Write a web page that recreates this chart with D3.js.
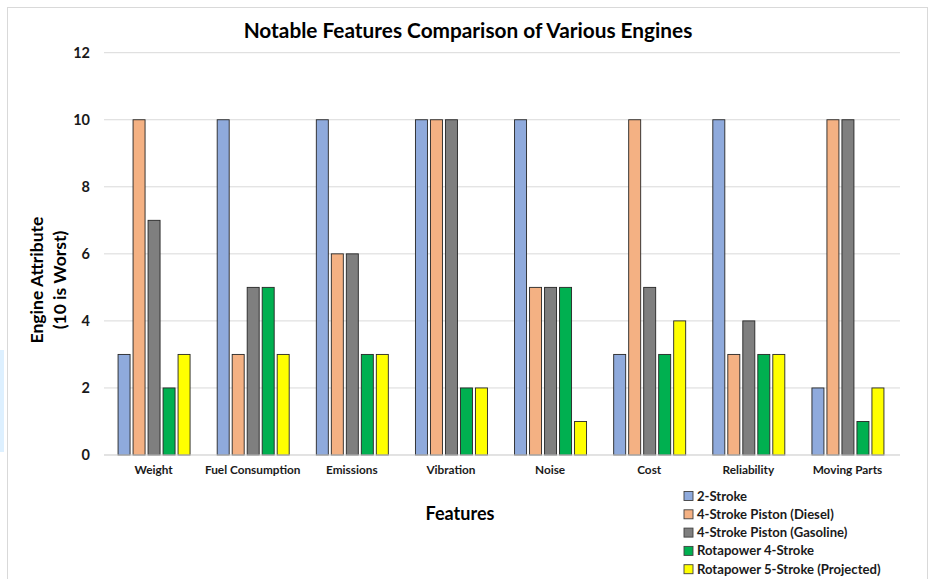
<!DOCTYPE html>
<html>
<head>
<meta charset="utf-8">
<script src="https://cdn.jsdelivr.net/npm/d3@7"></script>
<style>
  html, body { margin: 0; padding: 0; background: #fff; }
  svg { display: block; font-family: Lato, "Open Sans", sans-serif; }
</style>
</head>
<body>
<svg id="chart" width="930" height="579"></svg>
<script>
// Engine attribute ratings per feature (10 is worst)
const categories = ["Weight", "Fuel Consumption", "Emissions", "Vibration", "Noise", "Cost", "Reliability", "Moving Parts"];
const seriesNames = ["2-Stroke", "4-Stroke Piston (Diesel)", "4-Stroke Piston (Gasoline)", "Rotapower 4-Stroke", "Rotapower 5-Stroke (Projected)"];
const twoStroke      = [3, 10, 10, 10, 10, 3, 10, 2];
const diesel         = [10, 3, 6, 10, 5, 10, 3, 10];
const gasoline       = [7, 5, 6, 10, 5, 5, 4, 10];
const rotapower4     = [2, 5, 3, 2, 5, 3, 3, 1];
const rotapower5     = [3, 3, 3, 2, 1, 4, 3, 2];
const seriesValues = [twoStroke, diesel, gasoline, rotapower4, rotapower5];
const colors = ["#8FAADC", "#F4B183", "#7F7F7F", "#00B050", "#FFFF00"];
const yTicks = [0, 2, 4, 6, 8, 10, 12];

const svg = d3.select("#chart");

// side decoration and chart frame
svg.append("rect").attr("x", 0).attr("y", 350).attr("width", 4).attr("height", 102).attr("fill", "#DDF0FF");
svg.append("rect").attr("x", 7.5).attr("y", 7.5).attr("width", 920).attr("height", 600)
  .attr("fill", "#fff").attr("stroke", "#D9D9D9").attr("stroke-width", 1);

const plot = { left: 104, right: 897, top: 52.7, bottom: 455 };

const x = d3.scaleBand().domain(categories).range([plot.left, plot.right]).paddingInner(0).paddingOuter(0);
const y = d3.scaleLinear().domain([0, 12]).range([plot.bottom, plot.top]);

// gridlines
svg.append("g").selectAll("line").data(yTicks).join("line")
  .attr("x1", plot.left).attr("x2", 900)
  .attr("y1", d => y(d)).attr("y2", d => y(d))
  .attr("stroke", "#D9D9D9").attr("stroke-width", 1);

// y axis labels
const yAxis = d3.axisLeft(y).tickValues(yTicks).tickSize(0).tickPadding(14);
const gy = svg.append("g").attr("transform", `translate(${plot.left - 0},0)`).call(yAxis);
gy.select(".domain").remove();
gy.selectAll("text").attr("font-family", "Lato, sans-serif").attr("font-size", 14.5)
  .attr("font-weight", "bold").attr("fill", "#1a1a1a");

// bars
const barW = 12, barStep = 15;
const groupW = barStep * (seriesNames.length - 1) + barW;
const groups = svg.append("g").selectAll("g").data(categories).join("g")
  .attr("transform", c => `translate(${x(c) + x.bandwidth() / 2 - groupW / 2},0)`);
groups.selectAll("rect").data((c, i) => seriesValues.map((s, k) => ({ k, v: s[i] })))
  .join("rect")
  .attr("x", d => d.k * barStep + 0.5)
  .attr("y", d => y(d.v))
  .attr("width", barW)
  .attr("height", d => y(0) - y(d.v))
  .attr("fill", d => colors[d.k])
  .attr("stroke", "#262626").attr("stroke-width", 0.9);

// x axis baseline and category labels
svg.append("line").attr("x1", plot.left).attr("x2", 900).attr("y1", y(0)).attr("y2", y(0))
  .attr("stroke", "#D9D9D9");
const xAxis = d3.axisBottom(x).tickSize(0).tickPadding(11);
const gx = svg.append("g").attr("transform", `translate(0,${y(0)})`).call(xAxis);
gx.select(".domain").remove();
gx.selectAll("text").attr("font-family", "Lato, sans-serif").attr("font-size", 11.8)
  .attr("font-weight", "bold").attr("fill", "#1a1a1a");

// title
svg.append("text").attr("x", 468).attr("y", 38).attr("text-anchor", "middle")
  .attr("font-size", 20.8).attr("font-weight", "bold").attr("fill", "#000")
  .text("Notable Features Comparison of Various Engines");

// axis titles
const yt = svg.append("text").attr("transform", "translate(43,280) rotate(-90)")
  .attr("text-anchor", "middle").attr("font-size", 17.5).attr("font-weight", "bold").attr("fill", "#000");
yt.append("tspan").attr("x", 0).attr("y", 0).text("Engine Attribute");
yt.append("tspan").attr("x", 0).attr("y", 23).text("(10 is Worst)");

svg.append("text").attr("x", 460).attr("y", 520).attr("text-anchor", "middle")
  .attr("font-size", 18).attr("font-weight", "bold").attr("fill", "#000").text("Features");

// legend
const legend = svg.append("g").attr("transform", "translate(684,496)");
const items = legend.selectAll("g").data(seriesNames).join("g")
  .attr("transform", (d, i) => `translate(0,${i * 18.3})`);
items.append("rect").attr("x", 0).attr("y", -4.5).attr("width", 9).attr("height", 9)
  .attr("fill", (d, i) => colors[i]).attr("stroke", "#404040").attr("stroke-width", 0.9);
items.append("text").attr("x", 13).attr("y", 4.5).attr("font-size", 13.1).attr("font-weight", "bold")
  .attr("fill", "#1a1a1a").text(d => d);
</script>
</body>
</html>
